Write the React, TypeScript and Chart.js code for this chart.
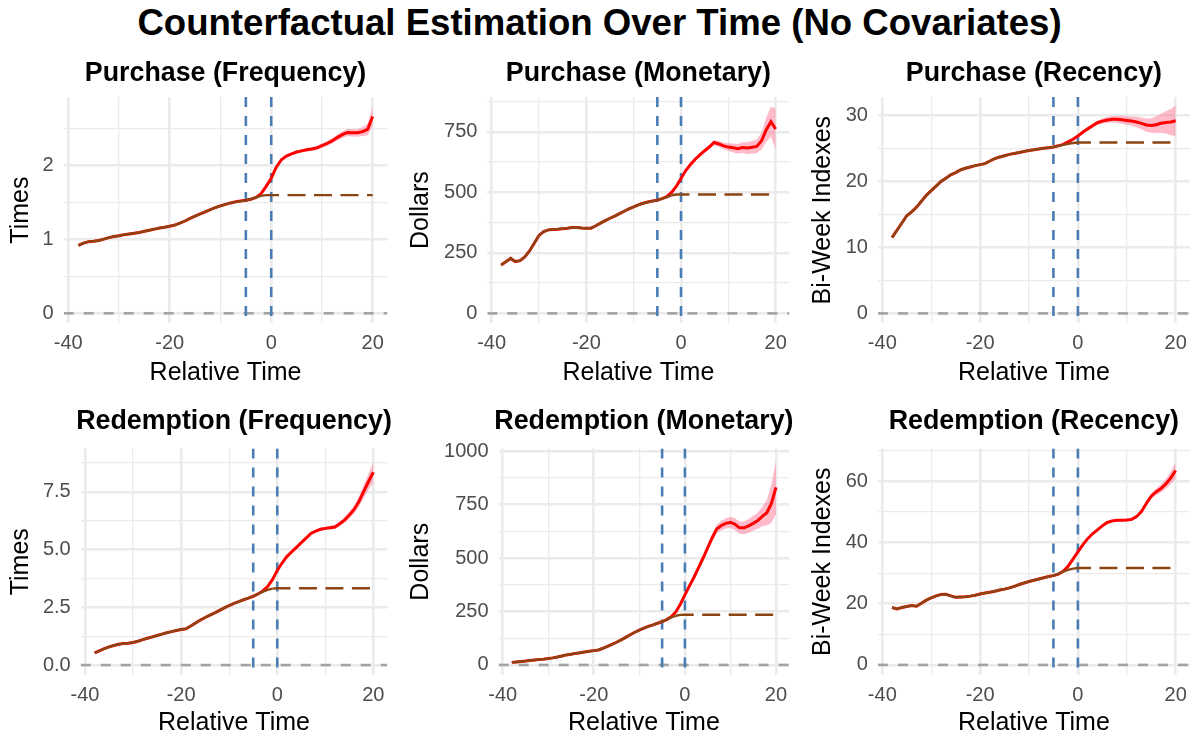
import React, { useEffect, useRef } from "react";
import { Chart, registerables } from "chart.js";

Chart.register(...registerables);

// ---------- data ----------
const relTime = [
  -38, -37, -36, -35, -34, -33, -32, -31, -30, -29,
  -28, -27, -26, -25, -24, -23, -22, -21, -20, -19,
  -18, -17, -16, -15, -14, -13, -12, -11, -10, -9,
  -8, -7, -6, -5, -4, -3, -2, -1,
  0, 1, 2, 3, 4, 5, 6, 7, 8, 9, 10,
  11, 12, 13, 14, 15, 16, 17, 18, 19, 20,
];
const ciTime = [0, 1, 2, 3, 4, 5, 6, 7, 8, 9, 10, 11, 12, 13, 14, 15, 16, 17, 18, 19, 20];

const xMajorTicks = [-40, -20, 0, 20];
const xMinorTicks = [-30, -10, 10];
const markerTimes = [-5, 0];
const zeroLine = 0;

// Purchase (Frequency)
const pfActual = [
  0.92, 0.95, 0.97, 0.975, 0.985, 1.005, 1.025, 1.04, 1.05, 1.065,
  1.075, 1.085, 1.095, 1.11, 1.125, 1.14, 1.155, 1.165, 1.18, 1.195,
  1.22, 1.25, 1.285, 1.315, 1.345, 1.375, 1.405, 1.43, 1.455, 1.475,
  1.495, 1.51, 1.52, 1.53, 1.545, 1.57, 1.62, 1.72,
  1.83, 1.98, 2.08, 2.13, 2.16, 2.185, 2.2, 2.215, 2.225, 2.24, 2.27,
  2.3, 2.335, 2.38, 2.42, 2.45, 2.445, 2.445, 2.46, 2.49, 2.665,
];
const pfCounter = [
  0.92, 0.95, 0.97, 0.975, 0.985, 1.005, 1.025, 1.04, 1.05, 1.065,
  1.075, 1.085, 1.095, 1.11, 1.125, 1.14, 1.155, 1.165, 1.18, 1.195,
  1.22, 1.25, 1.285, 1.315, 1.345, 1.375, 1.405, 1.43, 1.455, 1.475,
  1.495, 1.51, 1.52, 1.53, 1.545, 1.57, 1.59, 1.6,
  1.6, 1.6, 1.6, 1.6, 1.6, 1.6, 1.6, 1.6, 1.6, 1.6, 1.6,
  1.6, 1.6, 1.6, 1.6, 1.6, 1.6, 1.6, 1.6, 1.6, 1.6,
];
const pfBand = [0.01, 0.012, 0.014, 0.016, 0.018, 0.02, 0.022, 0.024, 0.026, 0.028, 0.03, 0.033, 0.036, 0.04, 0.044, 0.048, 0.05, 0.052, 0.06, 0.08, 0.13];

// Purchase (Monetary)
const pmActual = [
  200, 213, 227, 214, 218, 233, 258, 290, 322, 338,
  345, 347, 348, 350, 352, 355, 355, 353, 352, 352,
  362, 373, 383, 393, 402, 412, 422, 432, 440, 448,
  455, 460, 464, 468, 474, 482, 500, 525,
  557, 590, 615, 637, 655, 672, 688, 706, 700, 692, 687,
  684, 680, 685, 683, 686, 690, 712, 758, 792, 762,
];
const pmCounter = [
  200, 213, 227, 214, 218, 233, 258, 290, 322, 338,
  345, 347, 348, 350, 352, 355, 355, 353, 352, 352,
  362, 373, 383, 393, 402, 412, 422, 432, 440, 448,
  455, 460, 464, 468, 474, 480, 488, 491,
  491, 491, 491, 491, 491, 491, 491, 491, 491, 491, 491,
  491, 491, 491, 491, 491, 491, 491, 491, 491, 491,
];
const pmBand = [5, 5, 6, 6, 7, 8, 9, 10, 12, 14, 16, 18, 20, 22, 24, 26, 28, 35, 50, 62, 85];

// Purchase (Recency)
const prActual = [
  11.5, 12.6, 13.7, 14.8, 15.4, 16.1, 17.0, 17.9, 18.6, 19.3,
  20.0, 20.5, 21.0, 21.35, 21.75, 22.0, 22.2, 22.4, 22.55, 22.7,
  23.1, 23.45, 23.7, 23.9, 24.1, 24.25, 24.4, 24.55, 24.7, 24.8,
  24.92, 25.02, 25.12, 25.22, 25.4, 25.62, 26.0, 26.4,
  26.9, 27.45, 27.97, 28.45, 28.9, 29.15, 29.32, 29.42, 29.42, 29.35, 29.25,
  29.15, 29.0, 28.8, 28.55, 28.48, 28.6, 28.83, 28.95, 29.0, 29.2,
];
const prCounter = [
  11.5, 12.6, 13.7, 14.8, 15.4, 16.1, 17.0, 17.9, 18.6, 19.3,
  20.0, 20.5, 21.0, 21.35, 21.75, 22.0, 22.2, 22.4, 22.55, 22.7,
  23.1, 23.45, 23.7, 23.9, 24.1, 24.25, 24.4, 24.55, 24.7, 24.8,
  24.92, 25.02, 25.12, 25.22, 25.4, 25.55, 25.7, 25.82,
  25.9, 25.9, 25.9, 25.9, 25.9, 25.9, 25.9, 25.9, 25.9, 25.9, 25.9,
  25.9, 25.9, 25.9, 25.9, 25.9, 25.9, 25.9, 25.9, 25.9, 25.9,
];
const prBand = [0.15, 0.2, 0.25, 0.3, 0.35, 0.4, 0.45, 0.5, 0.55, 0.6, 0.65, 0.7, 0.8, 0.9, 1.0, 1.1, 1.25, 1.45, 1.7, 2.0, 2.3];

// Redemption (Frequency)
const rfActual = [
  0.53, 0.62, 0.71, 0.79, 0.85, 0.9, 0.93, 0.95, 0.98, 1.03,
  1.1, 1.16, 1.22, 1.28, 1.34, 1.4, 1.45, 1.5, 1.54, 1.57,
  1.69, 1.82, 1.95, 2.06, 2.16, 2.26, 2.37, 2.48, 2.58, 2.67,
  2.75, 2.83, 2.9, 2.98, 3.08, 3.21, 3.4, 3.7,
  4.1, 4.42, 4.7, 4.9, 5.1, 5.3, 5.5, 5.7, 5.8, 5.88, 5.92,
  5.95, 5.98, 6.12, 6.28, 6.5, 6.74, 7.08, 7.52, 7.95, 8.35,
];
const rfCounter = [
  0.53, 0.62, 0.71, 0.79, 0.85, 0.9, 0.93, 0.95, 0.98, 1.03,
  1.1, 1.16, 1.22, 1.28, 1.34, 1.4, 1.45, 1.5, 1.54, 1.57,
  1.69, 1.82, 1.95, 2.06, 2.16, 2.26, 2.37, 2.48, 2.58, 2.67,
  2.75, 2.83, 2.9, 2.98, 3.08, 3.18, 3.26, 3.31,
  3.33, 3.33, 3.33, 3.33, 3.33, 3.33, 3.33, 3.33, 3.33, 3.33, 3.33,
  3.33, 3.33, 3.33, 3.33, 3.33, 3.33, 3.33, 3.33, 3.33, 3.33,
];
const rfBand = [0.03, 0.03, 0.04, 0.04, 0.05, 0.05, 0.05, 0.06, 0.06, 0.07, 0.07, 0.08, 0.09, 0.1, 0.12, 0.14, 0.17, 0.22, 0.28, 0.35, 0.45];

// Redemption (Monetary)
const rmActual = [
  12, 14, 16, 18, 21, 23, 25, 27, 30, 33,
  37, 42, 47, 50, 54, 57, 61, 64, 67, 70,
  78, 87, 96, 106, 117, 129, 141, 153, 163, 172,
  180, 187, 195, 203, 212, 225, 248, 284,
  328, 370, 410, 455, 500, 548, 595, 636, 652, 662, 667,
  658, 641, 641, 650, 662, 675, 695, 712, 755, 830,
];
const rmCounter = [
  12, 14, 16, 18, 21, 23, 25, 27, 30, 33,
  37, 42, 47, 50, 54, 57, 61, 64, 67, 70,
  78, 87, 96, 106, 117, 129, 141, 153, 163, 172,
  180, 187, 195, 203, 212, 222, 230, 234,
  235, 235, 235, 235, 235, 235, 235, 235, 235, 235, 235,
  235, 235, 235, 235, 235, 235, 235, 235, 235, 235,
];
const rmBand = [8, 10, 12, 14, 16, 18, 19, 20, 22, 24, 26, 28, 28, 30, 32, 35, 38, 45, 60, 90, 125];

// Redemption (Recency)
const rrActual = [
  18.8, 18.3, 18.8, 19.1, 19.4, 19.2, 20.2, 21.2, 21.9, 22.6,
  23.0, 23.1, 22.6, 22.1, 22.2, 22.3, 22.5, 22.8, 23.2, 23.5,
  23.8, 24.1, 24.5, 24.8, 25.2, 25.7, 26.3, 26.8, 27.3, 27.7,
  28.1, 28.5, 28.9, 29.2, 29.7, 30.6, 32.3, 34.6,
  37.0, 39.3, 41.3, 42.9, 44.2, 45.5, 46.6, 47.1, 47.3, 47.3, 47.4,
  47.6, 48.5, 50.2, 52.8, 55.2, 56.6, 57.7, 59.2, 61.2, 63.6,
];
const rrCounter = [
  18.8, 18.3, 18.8, 19.1, 19.4, 19.2, 20.2, 21.2, 21.9, 22.6,
  23.0, 23.1, 22.6, 22.1, 22.2, 22.3, 22.5, 22.8, 23.2, 23.5,
  23.8, 24.1, 24.5, 24.8, 25.2, 25.7, 26.3, 26.8, 27.3, 27.7,
  28.1, 28.5, 28.9, 29.2, 29.8, 30.5, 31.1, 31.5,
  31.7, 31.7, 31.7, 31.7, 31.7, 31.7, 31.7, 31.7, 31.7, 31.7, 31.7,
  31.7, 31.7, 31.7, 31.7, 31.7, 31.7, 31.7, 31.7, 31.7, 31.7,
];
const rrBand = [0.2, 0.2, 0.25, 0.25, 0.3, 0.3, 0.35, 0.35, 0.4, 0.4, 0.45, 0.5, 0.55, 0.65, 0.8, 0.95, 1.1, 1.3, 1.6, 2.1, 2.7];

const mainTitle = "Counterfactual Estimation Over Time (No Covariates)";
const xAxisTitle = "Relative Time";

// ---------- panel definitions ----------
type PanelDef = {
  title: string;
  yTitle: string;
  actual: number[];
  counter: number[];
  band: number[];
  dashFrom: number;
  yMajor: number[];
  yLabels: string[];
  yMinor: number[];
  yLim: [number, number];
  cell: [number, number, number, number]; // x, y, w, h (page px)
  area: [number, number, number, number]; // L, T, R, B (page px)
  titleBase: number; // page y of title baseline
};

const panels: PanelDef[] = [
  {
    title: "Purchase (Frequency)", yTitle: "Times",
    actual: pfActual, counter: pfCounter, band: pfBand, dashFrom: -2,
    yMajor: [0, 1, 2], yLabels: ["0", "1", "2"], yMinor: [0.5, 1.5, 2.5], yLim: [-0.136, 2.93],
    cell: [6, 50, 392, 338], area: [63.7, 97, 387.4, 323.3], titleBase: 81,
  },
  {
    title: "Purchase (Monetary)", yTitle: "Dollars",
    actual: pmActual, counter: pmCounter, band: pmBand, dashFrom: -2,
    yMajor: [0, 250, 500, 750], yLabels: ["0", "250", "500", "750"], yMinor: [125, 375, 625, 875], yLim: [-41, 894],
    cell: [406, 50, 391, 338], area: [487.4, 97, 789.4, 323.3], titleBase: 81,
  },
  {
    title: "Purchase (Recency)", yTitle: "Bi-Week Indexes",
    actual: prActual, counter: prCounter, band: prBand, dashFrom: -1,
    yMajor: [0, 10, 20, 30], yLabels: ["0", "10", "20", "30"], yMinor: [5, 15, 25], yLim: [-1.5, 32.8],
    cell: [808, 50, 387, 338], area: [877.9, 97, 1190.2, 323.3], titleBase: 81,
  },
  {
    title: "Redemption (Frequency)", yTitle: "Times",
    actual: rfActual, counter: rfCounter, band: rfBand, dashFrom: -1,
    yMajor: [0, 2.5, 5, 7.5], yLabels: ["0.0", "2.5", "5.0", "7.5"], yMinor: [1.25, 3.75, 6.25, 8.75], yLim: [-0.43, 9.38],
    cell: [6, 395, 392, 343], area: [80.7, 448.5, 387.3, 675], titleBase: 429,
  },
  {
    title: "Redemption (Monetary)", yTitle: "Dollars",
    actual: rmActual, counter: rmCounter, band: rmBand, dashFrom: -2,
    yMajor: [0, 250, 500, 750, 1000], yLabels: ["0", "250", "500", "750", "1000"], yMinor: [125, 375, 625, 875], yLim: [-47, 1012],
    cell: [406, 395, 391, 343], area: [498.6, 448.5, 789.2, 675], titleBase: 429,
  },
  {
    title: "Redemption (Recency)", yTitle: "Bi-Week Indexes",
    actual: rrActual, counter: rrCounter, band: rrBand, dashFrom: -1,
    yMajor: [0, 20, 40, 60], yLabels: ["0", "20", "40", "60"], yMinor: [10, 30, 50, 70], yLim: [-3.3, 70.8],
    cell: [808, 395, 387, 343], area: [877.9, 448.5, 1190.2, 675], titleBase: 429,
  },
];

const FONT = '"Liberation Sans", Arial, Helvetica, sans-serif';
const GRID = "#EBEBEB";
const MAJOR_W = 2.6;
const MINOR_W = 1.3;

const panelTitlePlugin = {
  id: "panelTitle",
  afterDraw(chart: any, _args: any, opts: any) {
    const { ctx, chartArea } = chart;
    ctx.save();
    ctx.font = `bold 26.8px ${FONT}`;
    ctx.fillStyle = "#000000";
    ctx.textAlign = "center";
    ctx.textBaseline = "alphabetic";
    ctx.fillText(opts.text, (chartArea.left + chartArea.right) / 2, opts.baseline);
    ctx.restore();
  },
};

const refLinesPlugin = {
  id: "refLines",
  beforeDatasetsDraw(chart: any, _args: any, opts: any) {
    const { ctx, chartArea: a, scales } = chart;
    const xs = scales.x;
    const ys = scales.y;
    ctx.save();
    ctx.beginPath();
    ctx.rect(a.left, a.top, a.right - a.left, a.bottom - a.top);
    ctx.clip();
    ctx.lineWidth = 2.6;
    ctx.strokeStyle = "#A3A3A3";
    ctx.setLineDash([10, 10]);
    const yy = ys.getPixelForValue(opts.hline);
    ctx.beginPath();
    ctx.moveTo(a.left, yy);
    ctx.lineTo(a.right, yy);
    ctx.stroke();
    ctx.strokeStyle = "#4A7DB5";
    ctx.setLineDash([10, 9]);
    for (const v of opts.vlines) {
      const xx = xs.getPixelForValue(v);
      ctx.beginPath();
      ctx.moveTo(xx, a.top);
      ctx.lineTo(xx, a.bottom);
      ctx.stroke();
    }
    ctx.restore();
  },
};

function buildConfig(p: PanelDef): any {
  const [cx, cy, cw, ch] = p.cell;
  const [L, T, R, B] = p.area;
  const yAxisW = L - cx;
  const xAxisH = cy + ch - B;
  const padTop = T - cy;
  const padRight = cx + cw - R;

  const actualPts = relTime.map((t, i) => ({ x: t, y: p.actual[i] }));
  const counterPts = relTime.map((t, i) => ({ x: t, y: p.counter[i] }));
  const upperPts = ciTime.map((t, i) => ({ x: t, y: p.actual[relTime.indexOf(t)] + p.band[i] }));
  const lowerPts = ciTime.map((t, i) => ({ x: t, y: p.actual[relTime.indexOf(t)] - p.band[i] }));

  const xAll = [...xMajorTicks, ...xMinorTicks].sort((a, b) => a - b);
  const yAll = [...p.yMajor, ...p.yMinor].sort((a, b) => a - b);

  return {
    type: "line",
    data: {
      datasets: [
        {
          label: "counterfactual",
          data: counterPts,
          borderColor: "#8B4513",
          borderWidth: 2.4,
          pointRadius: 0,
          fill: false,
          order: 0,
          segment: {
            borderDash: (c: any) => (c.p0.parsed.x >= p.dashFrom ? [18, 8.5] : undefined),
          },
        },
        {
          label: "actual",
          data: actualPts,
          borderColor: "#FF0000",
          borderWidth: 3,
          pointRadius: 0,
          fill: false,
          order: 1,
        },
        {
          label: "upper",
          data: upperPts,
          borderWidth: 0,
          borderColor: "rgba(0,0,0,0)",
          backgroundColor: "rgba(255, 120, 150, 0.5)",
          pointRadius: 0,
          fill: "+1",
          order: 2,
        },
        {
          label: "lower",
          data: lowerPts,
          borderWidth: 0,
          borderColor: "rgba(0,0,0,0)",
          pointRadius: 0,
          fill: false,
          order: 3,
        },
      ],
    },
    options: {
      responsive: false,
      animation: false,
      events: [],
      layout: { autoPadding: false, padding: { left: 0, bottom: 0, top: padTop, right: padRight } },
      plugins: {
        legend: { display: false },
        tooltip: { enabled: false },
        title: { display: false },
        panelTitle: { text: p.title, baseline: p.titleBase - cy },
        refLines: { hline: zeroLine, vlines: markerTimes },
      },
      scales: {
        x: {
          type: "linear",
          min: -40.9,
          max: 22.9,
          afterBuildTicks: (s: any) => {
            s.ticks = xAll.map((v) => ({ value: v }));
          },
          afterFit: (s: any) => {
            s.height = xAxisH;
          },
          ticks: {
            autoSkip: false,
            maxRotation: 0,
            padding: 8,
            color: "#4D4D4D",
            font: { size: 20, family: FONT },
            callback: (v: number) => (xMajorTicks.includes(v) ? String(v) : ""),
          },
          grid: {
            color: GRID,
            drawTicks: false,
            lineWidth: (c: any) => (c.tick && xMajorTicks.includes(c.tick.value) ? MAJOR_W : MINOR_W),
          },
          border: { display: false },
          title: {
            display: true,
            text: xAxisTitle,
            color: "#000000",
            font: { size: 25, family: FONT },
            padding: 0,
          },
        },
        y: {
          type: "linear",
          min: p.yLim[0],
          max: p.yLim[1],
          afterBuildTicks: (s: any) => {
            s.ticks = yAll.map((v) => ({ value: v }));
          },
          afterFit: (s: any) => {
            s.width = yAxisW;
          },
          ticks: {
            autoSkip: false,
            padding: 10,
            color: "#4D4D4D",
            font: { size: 20, family: FONT },
            callback: (v: number) => {
              const i = p.yMajor.indexOf(v);
              return i >= 0 ? p.yLabels[i] : "";
            },
          },
          grid: {
            color: GRID,
            drawTicks: false,
            lineWidth: (c: any) => (c.tick && p.yMajor.includes(c.tick.value) ? MAJOR_W : MINOR_W),
          },
          border: { display: false },
          title: {
            display: true,
            text: p.yTitle,
            color: "#000000",
            font: { size: 25, family: FONT },
            padding: 0,
          },
        },
      },
    },
    plugins: [panelTitlePlugin, refLinesPlugin],
  };
}

function Panel({ def }: { def: PanelDef }) {
  const ref = useRef<HTMLCanvasElement | null>(null);
  useEffect(() => {
    if (!ref.current) return;
    const chart = new Chart(ref.current, buildConfig(def));
    return () => chart.destroy();
  }, [def]);
  const [x, y, w, h] = def.cell;
  return (
    <canvas
      ref={ref}
      width={w}
      height={h}
      style={{ position: "absolute", left: x, top: y, width: w, height: h }}
    />
  );
}

export default function App() {
  return (
    <div
      style={{
        position: "fixed",
        left: 0,
        top: 0,
        width: 1195,
        height: 738,
        background: "#ffffff",
        overflow: "hidden",
      }}
    >
      <div
        style={{
          position: "absolute",
          left: 0,
          width: 1199,
          top: 4,
          textAlign: "center",
          fontFamily: FONT,
          fontWeight: "bold",
          fontSize: 36.6,
          lineHeight: "37px",
          color: "#000",
          whiteSpace: "nowrap",
        }}
      >
        {mainTitle}
      </div>
      {panels.map((p) => (
        <Panel key={p.title} def={p} />
      ))}
    </div>
  );
}
